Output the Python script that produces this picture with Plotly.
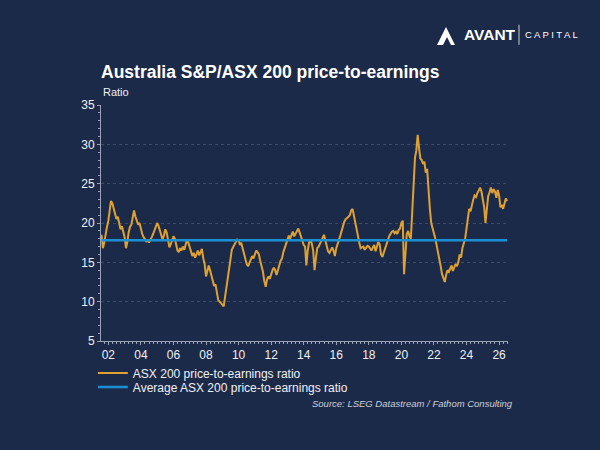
import plotly.graph_objects as go
import pandas as pd


# monthly readings, Aug 2001 - Jul 2026
start_month = "2001-08-01"
pe_ratio = [
    18.5, 16.8, 17.5, 18.8, 19.5,                                            # 2001
    20.3, 21.5, 22.8, 22.5, 21.8, 21.0, 20.5, 20.8, 19.8, 19.2, 19.6, 19.0,  # 2002
    18.2, 16.8, 17.5, 18.8, 19.5, 19.8, 20.6, 21.6, 20.8, 20.3, 19.8, 20.0,  # 2003
    19.2, 18.6, 18.2, 18.0, 17.6, 17.9, 17.5, 17.8, 18.2, 18.6, 19.0, 19.4,  # 2004
    20.0, 19.6, 19.0, 18.2, 17.9, 18.4, 19.2, 18.8, 17.5, 16.9, 17.3, 17.8,  # 2005
    18.3, 18.0, 17.2, 16.5, 16.3, 16.8, 16.5, 17.0, 16.6, 17.3, 17.9, 17.5,  # 2006
    17.0, 16.4, 15.8, 16.2, 15.6, 16.0, 16.5, 15.9, 16.4, 16.7, 15.5, 14.8,  # 2007
    13.2, 13.8, 14.6, 14.0, 13.2, 12.5, 12.0, 12.2, 11.2, 10.2, 10.0, 9.8,   # 2008
    9.6, 9.4, 10.5, 11.9, 13.0, 14.0, 15.3, 16.6, 17.0, 17.4, 17.6, 17.9,    # 2009
    17.8, 17.2, 17.5, 16.8, 16.0, 15.2, 14.8, 14.5, 15.0, 15.4, 15.8, 15.5,  # 2010
    16.0, 16.5, 16.3, 16.0, 15.2, 14.5, 13.8, 12.6, 11.9, 12.8, 13.2, 12.9,  # 2011
    13.5, 14.0, 14.3, 14.0, 13.4, 14.2, 14.6, 15.2, 15.5, 16.3, 16.8, 17.4,  # 2012
    17.8, 18.4, 18.0, 18.5, 18.9, 18.3, 18.7, 19.0, 19.3, 18.8, 18.2, 17.6,  # 2013
    17.2, 17.0, 14.6, 16.5, 17.5, 17.8, 17.4, 16.5, 14.0, 15.5, 16.8, 17.0,  # 2014
    17.4, 17.9, 18.3, 18.5, 17.8, 17.0, 16.4, 16.2, 16.6, 16.9, 16.5, 15.8,  # 2015
    16.8, 17.3, 17.7, 18.4, 19.0, 19.7, 20.2, 20.5, 20.6, 20.8, 21.0, 21.6,  # 2016
    21.8, 20.8, 20.0, 19.4, 18.4, 17.5, 16.8, 16.9, 17.0, 16.6, 16.9, 17.1,  # 2017
    17.0, 16.7, 16.5, 16.9, 17.2, 16.4, 17.2, 17.6, 17.3, 16.0, 15.7, 16.2,  # 2018
    16.8, 17.5, 17.8, 18.3, 18.6, 18.9, 19.0, 18.7, 18.9, 18.6, 19.1, 19.3,  # 2019
    20.0, 20.3, 13.5, 16.5, 18.6, 19.0, 18.3, 18.0, 22.0, 26.0, 28.3, 29.2,  # 2020
    31.2, 29.5, 28.2, 28.0, 27.5, 27.8, 26.4, 26.9, 24.0, 21.8, 20.0, 19.4,  # 2021
    18.5, 18.0, 17.2, 16.1, 15.3, 14.5, 13.5, 13.0, 12.5, 13.4, 14.0, 13.8,  # 2022
    14.2, 14.6, 13.9, 14.5, 14.8, 14.5, 15.0, 16.0, 15.6, 16.8, 17.4, 18.0,  # 2023
    19.3, 21.0, 21.8, 21.5, 22.4, 23.0, 23.5, 23.3, 23.8, 24.2, 24.5, 24.0,  # 2024
    23.0, 22.0, 20.0, 21.8, 23.4, 23.9, 24.5, 23.8, 24.3, 24.0, 23.2, 24.2,  # 2025
    23.5, 22.0, 22.3, 21.8, 22.6, 23.1, 22.8,                                # 2026
]
avg_pe = 17.8

dates = pd.date_range(start_month, periods=len(pe_ratio), freq="MS")

bg = "#1c2a49"
gold = "#dfa232"
blue = "#1b8fd4"
txt = "#eef0f4"
axis_col = "#9aa3b5"

fig = go.Figure()
fig.add_trace(go.Scatter(x=dates, y=pe_ratio, mode="lines",
                         line=dict(color=gold, width=2),
                         name="ASX 200 price-to-earnings ratio",
                         legend="legend"))
fig.add_trace(go.Scatter(x=dates, y=[avg_pe] * len(dates), mode="lines",
                         line=dict(color=blue, width=2.5),
                         name="Average ASX 200 price-to-earnings ratio",
                         legend="legend2"))

leg_style = dict(xanchor="left", yanchor="middle", bgcolor="rgba(0,0,0,0)",
                 font=dict(size=12, color=txt), itemwidth=30)

fig.update_layout(
    width=600, height=450,
    paper_bgcolor=bg, plot_bgcolor=bg,
    margin=dict(l=101, r=92, t=105, b=109),
    font=dict(family="Liberation Sans, Arial, sans-serif", color=txt, size=12),
    title=dict(text="<b>Australia S&P/ASX 200 price-to-earnings</b>",
               font=dict(size=17.5, color="white"),
               xref="paper", x=0, xanchor="left",
               yref="container", y=0.84, yanchor="middle"),
    showlegend=True,
    legend=dict(x=-0.02, y=-0.136, **leg_style),
    legend2=dict(x=-0.02, y=-0.195, **leg_style),
    xaxis=dict(
        range=["2001-07-20", "2026-07-20"],
        tick0="2002-01-01", dtick="M24", tickformat="%y",
        showgrid=False, zeroline=False,
        showline=True, linecolor=axis_col, linewidth=1,
        ticks="outside", ticklen=3, tickcolor=axis_col,
        minor=dict(dtick="M3", ticks="outside", ticklen=2, tickcolor=axis_col),
        tickfont=dict(size=12, color=txt),
    ),
    yaxis=dict(
        range=[5, 35], dtick=5,
        showgrid=True, gridcolor="rgba(255,255,255,0.16)", griddash="dot",
        zeroline=False,
        showline=True, linecolor=axis_col, linewidth=1,
        ticks="outside", ticklen=3, tickcolor=axis_col,
        minor=dict(dtick=1, ticks="outside", ticklen=2, tickcolor=axis_col),
        tickfont=dict(size=12, color=txt),
    ),
)

fig.add_annotation(text="Ratio", xref="paper", yref="paper", x=0, y=1.055,
                   xanchor="left", yanchor="middle", showarrow=False,
                   font=dict(size=11, color=txt))
fig.add_annotation(text="<i>Source: LSEG Datastream / Fathom Consulting</i>",
                   xref="paper", yref="paper", x=1.017, y=-0.263,
                   xanchor="right", yanchor="middle", showarrow=False,
                   font=dict(size=9.5, color="#c9cfdb"))

# logo
fig.add_shape(type="path", xref="paper", yref="paper",
              path="M 0.8256,1.2542 L 0.8477,1.3305 L 0.8698,1.2542 Z",
              fillcolor="white", line=dict(width=0))
fig.add_shape(type="path", xref="paper", yref="paper",
              path="M 0.8403,1.2542 L 0.8501,1.2881 L 0.8600,1.2542 Z",
              fillcolor=bg, line=dict(width=0))
fig.add_annotation(text="<b>AVANT</b>", xref="paper", yref="paper",
                   x=0.955, y=1.297, xanchor="center", yanchor="middle",
                   showarrow=False, font=dict(size=15.5, color="white"))
fig.add_shape(type="line", xref="paper", yref="paper",
              x0=1.027, x1=1.027, y0=1.255, y1=1.34,
              line=dict(color="#c9cfdb", width=1))
fig.add_annotation(text="C A P I T A L", xref="paper", yref="paper",
                   x=1.106, y=1.297, xanchor="center", yanchor="middle",
                   showarrow=False, font=dict(size=9.5, color="white"))

fig.write_html("out.html", config={"displayModeBar": False},
               post_script="document.body.style.margin='0';")
